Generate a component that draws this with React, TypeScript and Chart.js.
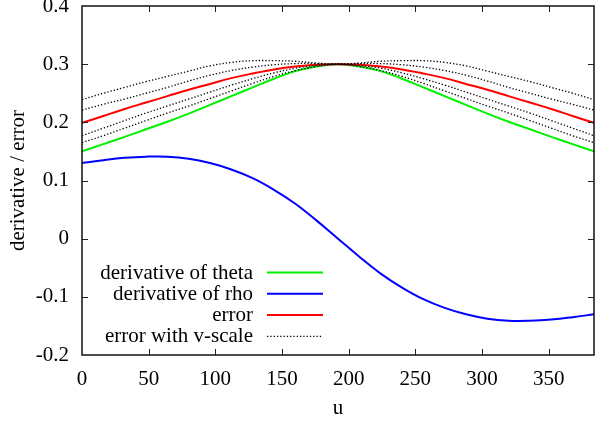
import React, { useEffect, useRef } from "react";
import { Chart, registerables } from "chart.js";

Chart.register(...registerables);

const FONT_FAMILY = "'Liberation Serif', 'Times New Roman', serif";
const FONT_SIZE = 21;

// u sample positions
const uValues = [0, 16, 32, 48, 64, 80, 96, 112, 128, 144, 160, 176, 192, 208, 224, 240, 256, 272, 288, 304, 320, 336, 352, 368, 384];

const derivTheta = [0.150, 0.1625, 0.175, 0.188, 0.201, 0.215, 0.230, 0.245, 0.260, 0.275, 0.288, 0.296, 0.300, 0.296, 0.288, 0.275, 0.260, 0.245, 0.230, 0.215, 0.201, 0.188, 0.175, 0.1625, 0.150];
const derivRho = [0.130, 0.135, 0.139, 0.141, 0.141, 0.1375, 0.130, 0.119, 0.104, 0.084, 0.060, 0.031, 0.000, -0.031, -0.060, -0.084, -0.104, -0.119, -0.130, -0.1375, -0.141, -0.141, -0.139, -0.135, -0.130];
const errorVals = [0.199, 0.211, 0.223, 0.234, 0.245, 0.256, 0.266, 0.276, 0.284, 0.291, 0.296, 0.299, 0.300, 0.299, 0.296, 0.291, 0.284, 0.276, 0.266, 0.256, 0.245, 0.234, 0.223, 0.211, 0.199];
const vScale1 = [0.239, 0.250, 0.260, 0.270, 0.279, 0.288, 0.297, 0.303, 0.306, 0.306, 0.305, 0.302, 0.300, 0.302, 0.305, 0.306, 0.306, 0.303, 0.297, 0.288, 0.279, 0.270, 0.260, 0.250, 0.239];
const vScale2 = [0.221, 0.231, 0.240, 0.250, 0.260, 0.271, 0.281, 0.289, 0.295, 0.299, 0.301, 0.301, 0.300, 0.301, 0.301, 0.299, 0.295, 0.289, 0.281, 0.271, 0.260, 0.250, 0.240, 0.231, 0.221];
const vScale3 = [0.177, 0.190, 0.203, 0.216, 0.228, 0.240, 0.252, 0.264, 0.275, 0.285, 0.293, 0.298, 0.300, 0.298, 0.293, 0.285, 0.275, 0.264, 0.252, 0.240, 0.228, 0.216, 0.203, 0.190, 0.177];
const vScale4 = [0.165, 0.177, 0.190, 0.203, 0.216, 0.228, 0.241, 0.254, 0.267, 0.279, 0.289, 0.296, 0.300, 0.296, 0.289, 0.279, 0.267, 0.254, 0.241, 0.228, 0.216, 0.203, 0.190, 0.177, 0.165];

const legendLabels = ["derivative of theta", "derivative of rho", "error", "error with v-scale"];

const toPoints = (ys: number[]) => ys.map((y, i) => ({ x: uValues[i], y }));

const framePlugin = {
  id: "gnuFrame",
  afterDatasetsDraw(chart: any) {
    const { ctx, chartArea: a, scales } = chart;
    const tl = 6;
    ctx.save();
    // ticks (inward, mirrored)
    ctx.strokeStyle = "#222";
    ctx.lineWidth = 1;
    ctx.beginPath();
    scales.x.ticks.forEach((t: any) => {
      const px = Math.round(scales.x.getPixelForValue(t.value)) + 0.5;
      if (px <= a.left + 1 || px >= a.right - 1) return;
      ctx.moveTo(px, a.bottom);
      ctx.lineTo(px, a.bottom - tl);
      ctx.moveTo(px, a.top);
      ctx.lineTo(px, a.top + tl);
    });
    scales.y.ticks.forEach((t: any) => {
      const py = Math.round(scales.y.getPixelForValue(t.value)) + 0.5;
      if (py <= a.top + 1 || py >= a.bottom - 1) return;
      ctx.moveTo(a.left, py);
      ctx.lineTo(a.left + tl, py);
      ctx.moveTo(a.right, py);
      ctx.lineTo(a.right - tl, py);
    });
    ctx.stroke();
    // border
    ctx.strokeStyle = "#111";
    ctx.lineWidth = 1.5;
    ctx.strokeRect(a.left, a.top, a.right - a.left, a.bottom - a.top);

    // legend
    const entries = chart.data.datasets.filter((d: any) => d.label);
    const textRight = 253;
    const lineX0 = 267;
    const lineX1 = 323;
    const rowY0 = 272;
    const rowGap = 21.3;
    ctx.font = `${FONT_SIZE}px ${FONT_FAMILY}`;
    ctx.textAlign = "right";
    ctx.textBaseline = "middle";
    entries.forEach((d: any, i: number) => {
      const y = rowY0 + i * rowGap;
      ctx.fillStyle = "#000";
      ctx.fillText(d.label, textRight, y + 1);
      ctx.strokeStyle = d.borderColor;
      ctx.lineWidth = d.borderWidth;
      ctx.setLineDash(d.borderDash || []);
      ctx.beginPath();
      ctx.moveTo(lineX0, y + 0.5);
      ctx.lineTo(lineX1, y + 0.5);
      ctx.stroke();
      ctx.setLineDash([]);
    });
    ctx.restore();
  },
};

export default function App() {
  const canvasRef = useRef<HTMLCanvasElement | null>(null);

  useEffect(() => {
    if (!canvasRef.current) return;
    Chart.defaults.color = "#000";
    const dotted = [1.3, 2];
    const chart = new Chart(canvasRef.current, {
      type: "line",
      data: {
        datasets: [
          { label: legendLabels[0], data: toPoints(derivTheta), borderColor: "#00f000", borderWidth: 2, order: 3 },
          { label: legendLabels[1], data: toPoints(derivRho), borderColor: "#0000ff", borderWidth: 2, order: 2 },
          { label: legendLabels[2], data: toPoints(errorVals), borderColor: "#ff0000", borderWidth: 2, order: 1 },
          { label: legendLabels[3], data: toPoints(vScale1), borderColor: "#000", borderWidth: 1.3, borderDash: dotted, order: 0 },
          { label: "", data: toPoints(vScale2), borderColor: "#000", borderWidth: 1.3, borderDash: dotted, order: 0 },
          { label: "", data: toPoints(vScale3), borderColor: "#000", borderWidth: 1.3, borderDash: dotted, order: 0 },
          { label: "", data: toPoints(vScale4), borderColor: "#000", borderWidth: 1.3, borderDash: dotted, order: 0 },
        ] as any,
      },
      options: {
        animation: false,
        responsive: true,
        maintainAspectRatio: false,
        layout: { padding: { top: 6, right: 14, left: 0, bottom: 0 } },
        elements: {
          point: { radius: 0 },
          line: { tension: 0.4, fill: false },
        },
        plugins: {
          legend: { display: false },
          tooltip: { enabled: false },
        },
        scales: {
          x: {
            type: "linear",
            min: 0,
            max: 384,
            grid: { display: false, drawTicks: false, tickLength: 0 },
            border: { display: false },
            ticks: {
              stepSize: 50,
              includeBounds: false,
              padding: 12,
              maxRotation: 0,
              font: { family: FONT_FAMILY, size: FONT_SIZE },
              color: "#000",
            },
            title: {
              display: true,
              text: "u",
              font: { family: FONT_FAMILY, size: FONT_SIZE },
              color: "#000",
              padding: { top: 0, bottom: 0 },
            },
            afterFit: (s: any) => {
              s.height = 66;
              s.paddingLeft = 0;
              s.paddingRight = 0;
            },
          },
          y: {
            type: "linear",
            min: -0.2,
            max: 0.4,
            grid: { display: false, drawTicks: false, tickLength: 0 },
            border: { display: false },
            ticks: {
              stepSize: 0.1,
              padding: 13,
              font: { family: FONT_FAMILY, size: FONT_SIZE },
              color: "#000",
              callback: (v: any) => String(Number(Number(v).toFixed(1))),
            },
            title: {
              display: true,
              text: "derivative / error",
              font: { family: FONT_FAMILY, size: FONT_SIZE },
              color: "#000",
              padding: { top: 6, bottom: 0 },
            },
            afterFit: (s: any) => {
              s.width = 82;
              s.paddingTop = 0;
              s.paddingBottom = 0;
            },
          },
        },
      },
      plugins: [framePlugin],
    });
    return () => chart.destroy();
  }, []);

  return (
    <div style={{ position: "fixed", left: 0, top: 0, width: 608, height: 421, background: "#fff" }}>
      <canvas ref={canvasRef} />
    </div>
  );
}
